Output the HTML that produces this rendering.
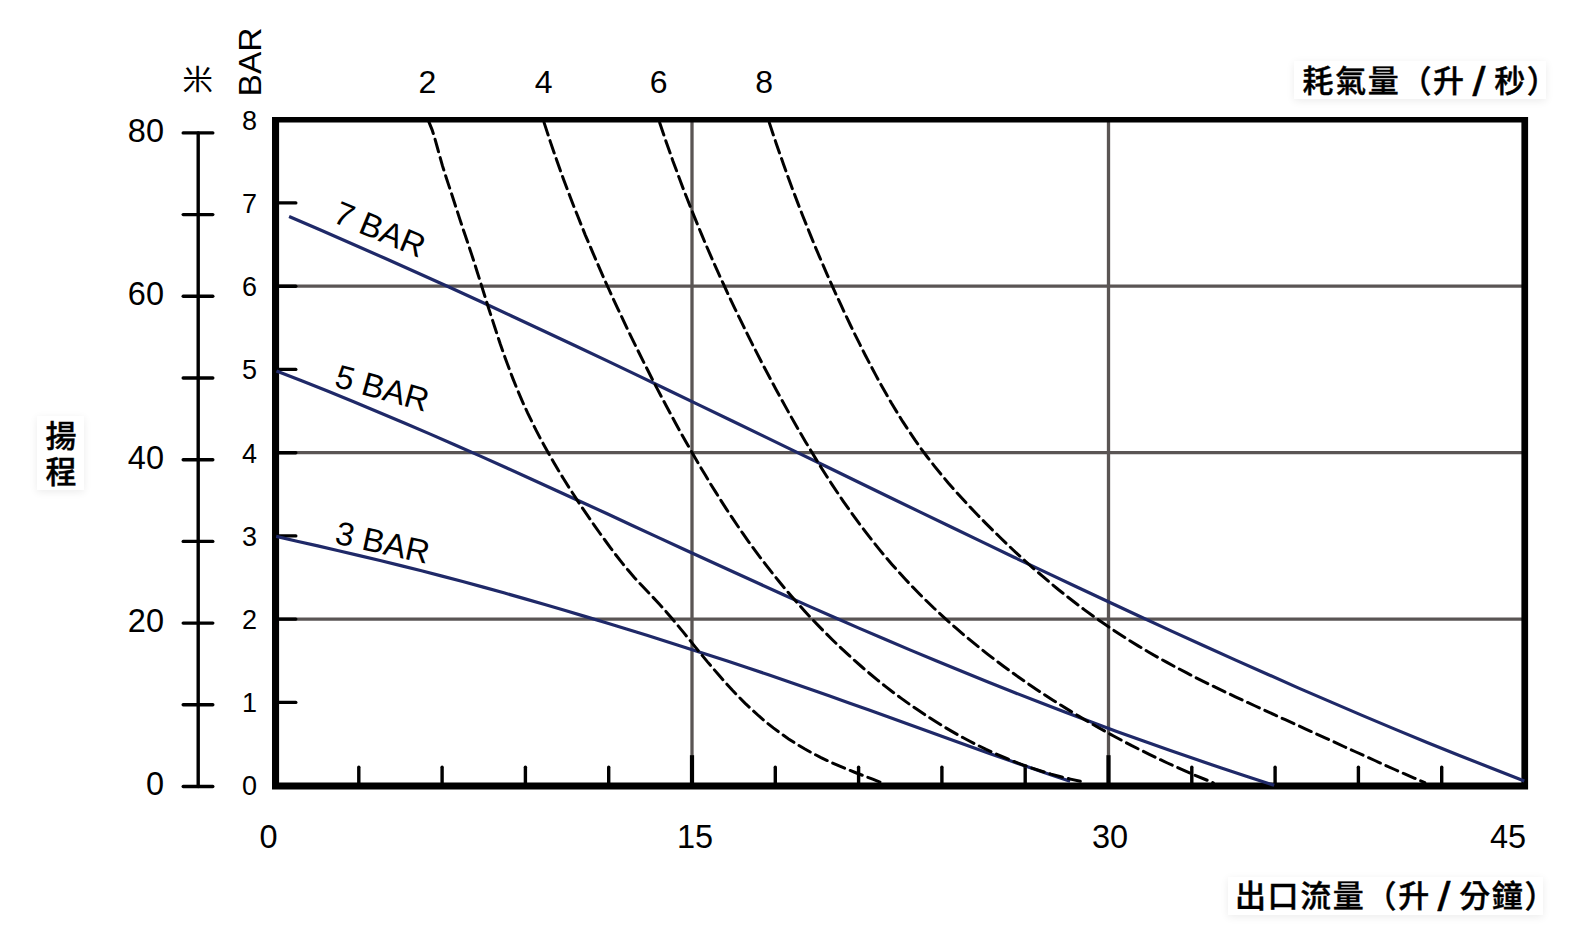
<!DOCTYPE html>
<html lang="zh-Hant"><head><meta charset="utf-8"><title>性能曲線</title>
<style>
html,body{margin:0;padding:0;background:#fff}
body{width:1590px;height:944px;position:relative;overflow:hidden}
.lb{position:absolute;background:#fff;box-shadow:0 2px 8px rgba(0,0,0,.08);font-family:"Liberation Sans","Noto Sans CJK TC",sans-serif;font-weight:500;-webkit-text-stroke:0.4px #000;font-size:31px;line-height:37px;letter-spacing:1.65px;color:#000;white-space:nowrap;box-sizing:border-box;padding:0 6.9px}
.lb span{display:inline-block;transform:translateY(2.3px) scale(1.5,1.3);transform-origin:50% 66%;margin:0 -1.2px}
#l1{left:1294.2px;top:61.2px;padding-top:1.7px;padding-left:8.3px;width:251.7px;height:37.7px}
#l2{left:1228px;top:877px;padding-top:0.8px;width:315px;height:38px}
#l3{left:37.3px;top:416.2px;padding-top:2.4px;padding-left:8.1px;width:47.2px;height:73.5px;white-space:normal;line-height:36.1px}
</style></head><body>
<svg width="1590" height="944" viewBox="0 0 1590 944" style="position:absolute;left:0;top:0">
<g font-family="'Liberation Sans', sans-serif" fill="#000">
<g stroke="#5a5554" stroke-width="3.3" fill="none">
<path d="M275.5 619.1 H1525.0"/>
<path d="M275.5 452.7 H1525.0"/>
<path d="M275.5 286.2 H1525.0"/>
<path d="M692.0 119.7 V785.6"/>
<path d="M1108.5 119.7 V785.6"/>
</g>
<path fill="#000" d="M272 116.9H1528.1V789.6H272ZM279.1 122.6V782.4H1521.4V122.6Z" fill-rule="evenodd"/>
<g stroke="#000" stroke-width="3.4" stroke-linecap="round" fill="none">
<path d="M358.8 767.3 V785.6"/>
<path d="M442.1 767.3 V785.6"/>
<path d="M525.4 767.3 V785.6"/>
<path d="M608.7 767.3 V785.6"/>
<path d="M692.0 755.2 V785.6" stroke-width="4.2" stroke-linecap="butt"/>
<path d="M775.3 767.3 V785.6"/>
<path d="M858.6 767.3 V785.6"/>
<path d="M941.9 767.3 V785.6"/>
<path d="M1025.2 767.3 V785.6"/>
<path d="M1108.5 755.2 V785.6" stroke-width="4.2" stroke-linecap="butt"/>
<path d="M1191.8 767.3 V785.6"/>
<path d="M1275.1 767.3 V785.6"/>
<path d="M1358.4 767.3 V785.6"/>
<path d="M1441.7 767.3 V785.6"/>
<path d="M275.5 702.4 H295.8"/>
<path d="M275.5 619.1 H295.8"/>
<path d="M275.5 535.9 H295.8"/>
<path d="M275.5 452.7 H295.8"/>
<path d="M275.5 369.4 H295.8"/>
<path d="M275.5 286.2 H295.8"/>
<path d="M275.5 202.9 H295.8"/>
<path d="M198.2 132.9 V786.5"/>
<path d="M183.2 786.5 H212.8"/>
<path d="M183.2 704.8 H212.8"/>
<path d="M183.2 623.1 H212.8"/>
<path d="M183.2 541.4 H212.8"/>
<path d="M183.2 459.7 H212.8"/>
<path d="M183.2 378.0 H212.8"/>
<path d="M183.2 296.3 H212.8"/>
<path d="M183.2 214.6 H212.8"/>
<path d="M183.2 132.9 H212.8"/>
</g>
<g stroke="#1f2968" stroke-width="3.2" fill="none">
<path d="M289.1 216.5L321.1 230.3L353.0 244.2L384.9 258.3L416.7 272.5L448.4 286.8L480.0 301.3L511.6 316.0L543.2 330.7L574.7 345.5L606.2 360.4L637.6 375.4L669.0 390.5L700.4 405.6L731.8 420.7L763.1 435.9L794.5 451.1L825.8 466.3L857.1 481.5L888.5 496.7L919.8 511.9L951.2 527.0L982.6 542.1L1014.0 557.2L1045.4 572.1L1076.9 587.0L1108.4 601.8L1140.0 616.5L1171.6 631.1L1203.3 645.5L1235.1 659.9L1266.9 674.0L1298.7 688.1L1330.7 701.9L1362.7 715.6L1394.8 729.1L1427.1 742.4L1459.4 755.4L1491.8 768.3L1524.3 780.9"/>
<path d="M276.5 371.0L302.3 381.0L328.1 391.3L353.7 401.7L379.3 412.4L404.9 423.2L430.3 434.1L455.7 445.2L481.0 456.4L506.3 467.8L531.6 479.2L556.8 490.7L582.0 502.2L607.2 513.8L632.3 525.5L657.5 537.1L682.7 548.7L707.8 560.3L733.0 571.8L758.3 583.3L783.5 594.7L808.8 606.1L834.1 617.3L859.5 628.4L885.0 639.3L910.5 650.1L936.1 660.8L961.7 671.3L987.4 681.7L1013.1 692.0L1038.9 702.1L1064.8 712.0L1090.7 721.8L1116.7 731.4L1142.8 740.8L1168.9 750.1L1195.1 759.1L1221.4 768.0L1247.8 776.8L1274.2 785.3"/>
<path d="M276.2 536.4L297.0 541.2L317.8 545.9L338.6 550.7L359.4 555.6L380.1 560.5L400.8 565.6L421.5 570.8L442.1 576.1L462.7 581.5L483.3 587.1L503.8 592.8L524.3 598.6L544.8 604.5L565.3 610.5L585.7 616.6L606.1 622.8L626.5 629.0L646.9 635.3L667.2 641.7L687.5 648.2L707.8 654.7L728.1 661.3L748.3 668.0L768.5 674.8L788.7 681.7L808.9 688.7L829.0 695.7L849.1 702.9L869.1 710.1L889.2 717.3L909.2 724.5L929.3 731.8L949.3 739.0L969.4 746.3L989.5 753.4L1009.6 760.5L1029.7 767.6L1049.9 774.5L1070.1 781.3"/>
</g>
<g stroke="#000" stroke-width="3.0" fill="none" stroke-linecap="round" stroke-dasharray="13 6">
<path d="M428.7 121.4L432.2 130.1L435.0 139.0L437.5 148.0L440.0 157.0L442.5 165.9L445.3 174.8L448.2 183.6L451.1 192.4L454.0 201.3L456.9 210.2L459.8 219.1L462.7 227.9L465.7 236.8L468.7 245.6L471.6 254.4L474.5 263.3L477.3 272.2L480.1 281.1L482.9 290.0L485.7 298.9L488.5 307.9L491.4 316.8L494.3 325.7L497.2 334.6L500.1 343.5L503.2 352.3L506.3 361.1L509.6 369.9L512.9 378.6L516.4 387.3L520.0 395.9L523.7 404.4L527.6 412.9L531.7 421.3L535.8 429.7L540.1 438.0L544.6 446.2L549.1 454.3L553.8 462.4L558.5 470.5L563.4 478.5L568.3 486.4L573.4 494.3L578.5 502.1L583.7 509.9L589.0 517.6L594.3 525.3L599.7 533.0L605.2 540.5L610.7 548.1L616.3 555.5L622.1 562.9L628.0 570.1L634.1 577.2L640.4 584.1L646.8 590.8L653.3 597.6L659.7 604.4L665.9 611.4L672.0 618.5L678.0 625.7L683.9 632.9L689.8 640.1L695.6 647.4L701.6 654.7L707.5 661.9L713.6 669.0L719.7 676.1L725.9 683.1L732.2 690.0L738.6 696.7L745.2 703.3L752.0 709.7L758.9 716.0L766.0 722.1L773.3 727.9L780.9 733.5L788.6 738.9L796.5 744.0L804.5 748.8L812.7 753.3L821.0 757.6L829.4 761.6L838.0 765.4L846.6 769.0L855.2 772.5L863.9 775.9L872.7 779.2L881.4 782.6"/>
<path d="M544.1 122.6L547.2 132.1L550.3 141.6L553.5 151.0L556.8 160.4L560.1 169.8L563.5 179.2L567.0 188.5L570.5 197.8L574.1 207.1L577.8 216.3L581.5 225.6L585.2 234.8L589.1 243.9L593.0 253.1L596.9 262.2L600.9 271.4L604.9 280.5L609.0 289.5L613.1 298.6L617.3 307.6L621.6 316.6L625.8 325.6L630.1 334.6L634.5 343.6L638.9 352.5L643.3 361.4L647.8 370.3L652.3 379.2L656.9 388.1L661.5 396.9L666.2 405.7L670.9 414.5L675.6 423.2L680.4 432.0L685.3 440.7L690.2 449.3L695.2 458.0L700.2 466.6L705.3 475.1L710.4 483.7L715.7 492.1L721.0 500.6L726.3 508.9L731.8 517.2L737.4 525.5L743.0 533.7L748.7 541.8L754.6 549.9L760.5 557.8L766.5 565.7L772.7 573.6L778.9 581.3L785.3 589.0L791.7 596.5L798.3 604.0L805.0 611.4L811.7 618.7L818.6 625.9L825.6 633.0L832.6 640.0L839.8 646.9L847.1 653.7L854.5 660.4L862.0 667.0L869.6 673.5L877.3 679.9L885.1 686.1L893.0 692.2L901.0 698.1L909.1 704.0L917.3 709.6L925.6 715.2L934.0 720.6L942.4 725.8L951.0 730.9L959.6 735.8L968.4 740.5L977.2 745.0L986.1 749.4L995.2 753.6L1004.3 757.5L1013.5 761.3L1022.7 764.8L1032.1 768.1L1041.6 771.2L1051.1 774.1L1060.8 776.7L1070.5 779.1L1080.3 781.3"/>
<path d="M659.7 122.7L662.9 132.2L666.1 141.7L669.5 151.2L672.8 160.7L676.3 170.1L679.8 179.5L683.3 188.9L687.0 198.3L690.6 207.6L694.4 216.9L698.2 226.2L702.0 235.4L705.9 244.7L709.9 253.9L713.9 263.1L718.0 272.2L722.2 281.4L726.4 290.5L730.6 299.6L734.9 308.6L739.3 317.7L743.7 326.7L748.1 335.7L752.6 344.7L757.2 353.6L761.8 362.6L766.5 371.5L771.2 380.4L775.9 389.2L780.8 398.1L785.6 406.9L790.5 415.7L795.5 424.5L800.5 433.2L805.6 441.9L810.8 450.5L816.0 459.1L821.3 467.7L826.7 476.2L832.1 484.6L837.7 493.0L843.3 501.3L849.1 509.5L854.9 517.6L860.9 525.7L866.9 533.7L873.1 541.6L879.3 549.4L885.7 557.1L892.2 564.7L898.9 572.2L905.6 579.5L912.5 586.8L919.5 594.0L926.6 601.0L933.8 608.0L941.2 614.8L948.6 621.6L956.1 628.2L963.8 634.8L971.5 641.2L979.3 647.5L987.2 653.8L995.2 659.9L1003.2 666.0L1011.3 671.9L1019.5 677.8L1027.8 683.5L1036.1 689.2L1044.5 694.7L1053.0 700.2L1061.5 705.6L1070.1 710.9L1078.7 716.1L1087.3 721.2L1096.0 726.2L1104.8 731.1L1113.6 736.0L1122.4 740.7L1131.3 745.4L1140.3 749.9L1149.3 754.3L1158.3 758.7L1167.4 763.0L1176.5 767.1L1185.6 771.2L1194.8 775.2L1204.1 779.0L1213.3 782.8"/>
<path d="M769.3 122.6L772.7 133.0L776.2 143.4L779.8 153.7L783.4 164.1L787.1 174.4L790.8 184.6L794.7 194.9L798.6 205.1L802.5 215.3L806.6 225.4L810.7 235.6L814.8 245.7L819.1 255.8L823.4 265.8L827.7 275.8L832.2 285.8L836.7 295.8L841.3 305.7L845.9 315.6L850.6 325.5L855.4 335.4L860.3 345.2L865.2 355.0L870.3 364.7L875.4 374.4L880.6 384.0L886.0 393.6L891.4 403.0L897.1 412.4L902.8 421.7L908.8 430.8L914.9 439.9L921.2 448.8L927.7 457.5L934.4 466.1L941.3 474.6L948.3 483.0L955.5 491.2L962.9 499.3L970.3 507.3L977.9 515.2L985.6 523.1L993.4 530.8L1001.2 538.5L1009.1 546.1L1017.1 553.6L1025.2 561.0L1033.3 568.3L1041.6 575.4L1049.9 582.5L1058.3 589.5L1066.9 596.3L1075.5 603.0L1084.2 609.6L1093.0 616.0L1102.0 622.3L1111.0 628.5L1120.1 634.5L1129.3 640.4L1138.6 646.1L1148.0 651.7L1157.4 657.1L1167.0 662.4L1176.6 667.6L1186.3 672.7L1196.0 677.7L1205.8 682.6L1215.7 687.4L1225.5 692.1L1235.4 696.8L1245.4 701.5L1255.3 706.0L1265.3 710.6L1275.3 715.2L1285.3 719.7L1295.2 724.2L1305.2 728.8L1315.1 733.3L1325.1 737.8L1335.0 742.4L1344.9 747.0L1354.9 751.5L1364.8 756.0L1374.8 760.5L1384.7 765.0L1394.7 769.5L1404.7 773.9L1414.7 778.3L1424.8 782.6"/>
</g>
<g font-size="32.5" text-anchor="end">
<text x="164" y="795.4">0</text>
<text x="164" y="632.0">20</text>
<text x="164" y="468.6">40</text>
<text x="164" y="305.2">60</text>
<text x="164" y="141.8">80</text>
</g>
<g font-size="27" text-anchor="middle">
<text x="249.5" y="795.4">0</text>
<text x="249.5" y="712.2">1</text>
<text x="249.5" y="628.9">2</text>
<text x="249.5" y="545.7">3</text>
<text x="249.5" y="462.5">4</text>
<text x="249.5" y="379.2">5</text>
<text x="249.5" y="296.0">6</text>
<text x="249.5" y="212.7">7</text>
<text x="249.5" y="129.5">8</text>
</g>
<g font-size="32" text-anchor="middle">
<text x="427.3" y="93">2</text>
<text x="543.6" y="93">4</text>
<text x="658.7" y="93">6</text>
<text x="764.1" y="93">8</text>
</g>
<g font-size="32.5" text-anchor="middle">
<text x="268.5" y="847.6">0</text>
<text x="695.0" y="847.6">15</text>
<text x="1110.0" y="847.6">30</text>
<text x="1508.0" y="847.6">45</text>
</g>
<text font-size="32" transform="translate(261 96.5) rotate(-90) scale(1.05 1)">BAR</text>
<text font-size="30.5" transform="translate(182.3 90.2) scale(1.01 0.93)" font-family="'Liberation Sans', 'Noto Sans CJK TC', sans-serif">米</text>
<text font-size="33" transform="translate(331.5 221.4) rotate(22.6)">7 BAR</text>
<text font-size="33" transform="translate(333.3 386.2) rotate(15.7)">5 BAR</text>
<text font-size="33" transform="translate(333.7 543.3) rotate(12.4)">3 BAR</text>
</g></svg>
<div class="lb" id="l1">耗氣量（升 <span>/</span> 秒）</div>
<div class="lb" id="l2">出口流量（升 <span>/</span> 分鐘）</div>
<div class="lb" id="l3">揚<br>程</div>
</body></html>
